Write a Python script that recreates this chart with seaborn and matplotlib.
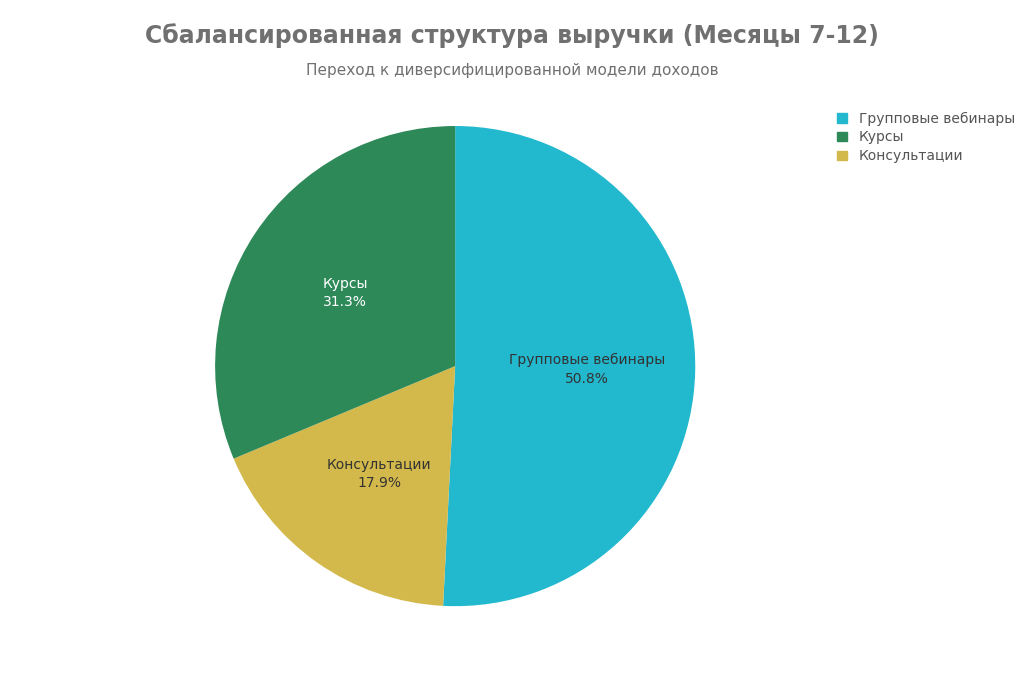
import matplotlib
matplotlib.use("Agg")
import matplotlib.pyplot as plt
import seaborn as sns
import numpy as np
from matplotlib.patches import Patch

sns.set_theme(style="white")
plt.rcParams['font.family'] = ['DejaVu Sans']

categories = ["Групповые вебинары", "Курсы", "Консультации"]
values = [50.8, 31.3, 17.9]
colors = {"Групповые вебинары": "#22b8ce", "Курсы": "#2e8959", "Консультации": "#d3b94b"}
text_colors = {"Групповые вебинары": "#333333", "Курсы": "white", "Консультации": "#333333"}

draw_order = ["Групповые вебинары", "Консультации", "Курсы"]
draw_vals = [values[categories.index(c)] for c in draw_order]

fig = plt.figure(figsize=(10.24, 6.83), dpi=100)
ax = fig.add_axes([0.2095, 0.1125, 0.47, 0.703])
wedges, _ = ax.pie(draw_vals, colors=[colors[c] for c in draw_order], startangle=90,
                   counterclock=False, wedgeprops=dict(linewidth=0))
ang = 90.0
for c, v in zip(draw_order, draw_vals):
    mid = np.deg2rad(ang - v * 3.6 / 2)
    ang -= v * 3.6
    x, y = 0.55 * np.cos(mid), 0.55 * np.sin(mid)
    ax.text(x, y, f"{c}\n{v:.1f}%", ha="center", va="center", fontsize=10,
            color=text_colors[c], linespacing=1.4)
ax.set_xlim(-1, 1)
ax.set_ylim(-1, 1)
ax.set_aspect("equal")

fig.text(0.5, 0.948, "Сбалансированная структура выручки (Месяцы 7-12)", ha="center",
         va="center", fontsize=17, fontweight="bold", color="#707070")
fig.text(0.5, 0.897, "Переход к диверсифицированной модели доходов", ha="center",
         va="center", fontsize=11, color="#707070")

handles = [Patch(color=colors[c], label=c) for c in categories]
leg = fig.legend(handles=handles, loc="upper left", bbox_to_anchor=(0.805, 0.855),
                 frameon=False, fontsize=10, handlelength=0.7, handleheight=0.7,
                 labelspacing=0.35, handletextpad=0.9)
for t in leg.get_texts():
    t.set_color("#555555")

fig.savefig("out.png", dpi=100)
